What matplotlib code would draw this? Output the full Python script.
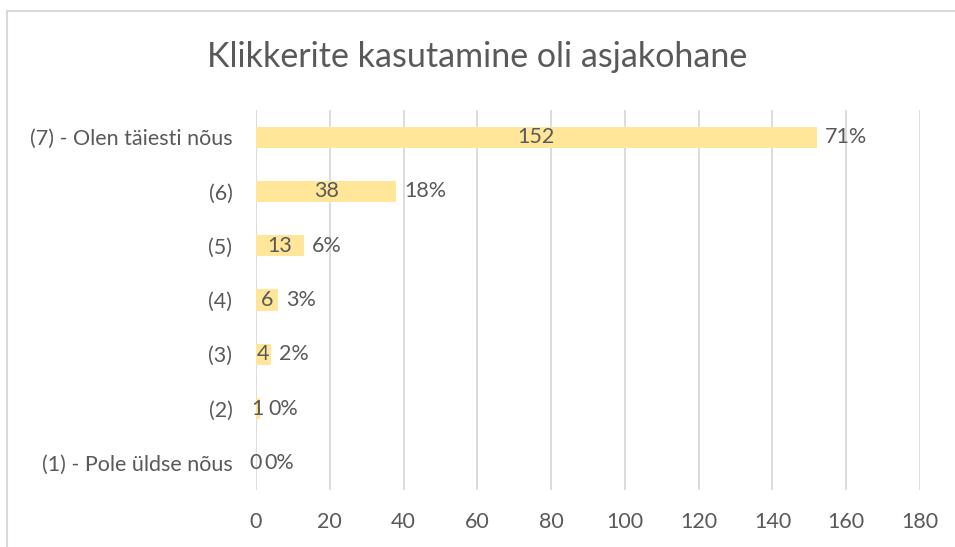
import matplotlib
matplotlib.use("Agg")
import matplotlib.pyplot as plt
from matplotlib.lines import Line2D

categories = ["(1) - Pole üldse nõus", "(2)", "(3)", "(4)", "(5)", "(6)", "(7) - Olen täiesti nõus"]
counts = [0, 1, 4, 6, 13, 38, 152]
percents = ["0%", "0%", "2%", "3%", "6%", "18%", "71%"]
xticks = [0, 20, 40, 60, 80, 100, 120, 140, 160, 180]
title = "Klikkerite kasutamine oli asjakohane"

text_color = "#595959"
bar_color = "#FFE699"
grid_color = "#D9D9D9"

plt.rcParams['font.family'] = ['Lato', 'DejaVu Sans']

fig = plt.figure(figsize=(9.55, 5.47), dpi=100)
ax = fig.add_axes([256/955, 1-490/547, (920-256)/955, (490-110)/547])

y = list(range(len(categories)))
bars = ax.barh(y, counts, height=0.39, color=bar_color, zorder=2)

fs = 15.5
ax.set_xlim(0, 180)
ax.set_ylim(-0.5, len(categories) - 0.5)
ax.set_xticks(xticks)
ax.set_xticklabels([str(t) for t in xticks], fontsize=fs, color=text_color)
ax.set_yticks(y)
ax.set_yticklabels(categories, fontsize=fs, color=text_color)
ax.tick_params(axis='both', length=0)
ax.tick_params(axis='x', pad=16)
ax.tick_params(axis='y', pad=17)
ax.grid(axis='x', color=grid_color, linewidth=1.3, zorder=0)
for s in ax.spines.values():
    s.set_visible(False)

for yi, c, p in zip(y, counts, percents):
    ax.text(c / 2, yi, str(c), ha='center', va='center', fontsize=fs, color=text_color, zorder=3)
    ax.annotate(p, (c, yi), xytext=(6, 0), textcoords='offset points',
                ha='left', va='center', fontsize=fs, color=text_color, zorder=3)

fig.text(0.5, 1 - 57/547, title, ha='center', va='center', fontsize=24.5, color=text_color)

fig.add_artist(Line2D([6.5/955, 6.5/955], [0, 1 - 10.5/547], transform=fig.transFigure, color=grid_color, linewidth=1.5))
fig.add_artist(Line2D([6.5/955, 1], [1 - 10.5/547, 1 - 10.5/547], transform=fig.transFigure, color=grid_color, linewidth=1.5))

fig.savefig("out.png", dpi=100, facecolor="white")
